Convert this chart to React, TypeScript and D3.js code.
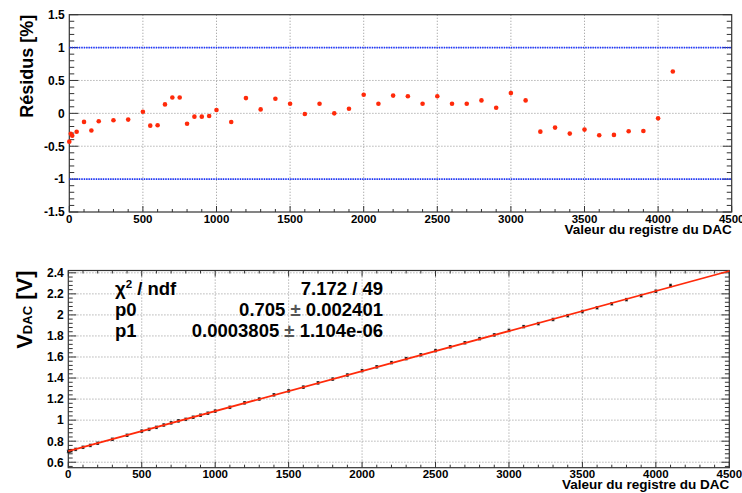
import React from "react";
import * as d3 from "d3";

// DAC register values (x)
const dacValues = [
  0, 10, 20, 50, 100, 150, 200, 300, 400, 500, 550, 600, 650, 700, 750, 800, 850, 900, 950, 1000,
  1100, 1200, 1300, 1400, 1500, 1600, 1700, 1800, 1900, 2000, 2100, 2200, 2300, 2400, 2500, 2600,
  2700, 2800, 2900, 3000, 3100, 3200, 3300, 3400, 3500, 3600, 3700, 3800, 3900, 4000, 4100,
];
// Residuals [%]
const residuals = [
  -0.43, -0.31, -0.34, -0.28, -0.13, -0.26, -0.12, -0.105, -0.095, 0.025, -0.187, -0.182, 0.136,
  0.242, 0.242, -0.157, -0.05, -0.05, -0.04, 0.05, -0.131, 0.232, 0.06, 0.222, 0.146, -0.01, 0.146,
  0.0, 0.07, 0.283, 0.146, 0.27, 0.26, 0.146, 0.26, 0.146, 0.146, 0.197, 0.086, 0.308, 0.197,
  -0.278, -0.217, -0.308, -0.247, -0.333, -0.328, -0.273, -0.268, -0.076, 0.636,
];
// Measured V_DAC [V]
const vdac = [
  0.702, 0.7066, 0.7102, 0.722, 0.7421, 0.7598, 0.7802, 0.8183, 0.8564, 0.8955, 0.9126, 0.9316,
  0.9536, 0.9737, 0.9928, 1.0078, 1.0279, 1.047, 1.0661, 1.086, 1.1221, 1.1643, 1.2004, 1.2404,
  1.2777, 1.3137, 1.3539, 1.3899, 1.429, 1.4701, 1.5064, 1.5463, 1.5843, 1.6206, 1.6606, 1.6968,
  1.735, 1.7739, 1.8101, 1.8522, 1.8884, 1.9172, 1.9564, 1.9925, 2.0317, 2.068, 2.1059, 2.1451,
  2.1831, 2.2252, 2.2796,
];
const vErr = 0.012;
// Fit parameters
const p0 = 0.705;
const p1 = 0.0003805;
const statsLabels = ["p0", "p1"];
const statsValues = ["0.705", "0.0003805"];
const statsErrors = ["0.002401", "1.104e-06"];
const chi2Text = "7.172 / 49";

const FONT = "'Liberation Sans', Arial, Helvetica, sans-serif";
const W = 742;
const H = 493;

const xTop = d3.scaleLinear().domain([0, 4500]).range([69.3, 731.7]);
const yTop = d3.scaleLinear().domain([-1.5, 1.5]).range([212, 14.7]);
const xBot = d3.scaleLinear().domain([0, 4500]).range([68.3, 729.3]);
const yBot = d3.scaleLinear().domain([0.548, 2.422]).range([467.7, 270.5]);

const fmtY = (v: number) => {
  const r = Math.round(v * 100) / 100;
  return String(r);
};

type Scale = d3.ScaleLinear<number, number>;

function Frame({
  x, y, yMinor, yMajorEvery, xTitle, yTitleNode, topTicks, yMajorLen, tickFont,
  xLabelBaseline, xTitleBaseline,
}: {
  x: Scale; y: Scale; yMinor: number; yMajorEvery: number; xTitle: string;
  yTitleNode: React.ReactNode; topTicks: boolean; yMajorLen: number; tickFont: number;
  xLabelBaseline: number; xTitleBaseline: number;
}) {
  const [x0, x1] = x.range();
  const [yb, yt] = y.range();
  const [d0, d1] = y.domain();
  const xMinorTicks = d3.range(0, 46).map((i) => i * 100);
  const xMajor = d3.range(0, 10).map((i) => i * 500);
  const iStart = Math.ceil(d0 / yMinor - 1e-9);
  const iEnd = Math.floor(d1 / yMinor + 1e-9);
  const yTicks = d3.range(iStart, iEnd + 1).map((i) => ({ v: i * yMinor, major: i % yMajorEvery === 0 }));
  return (
    <g>
      {/* grid */}
      {xMajor.filter((v) => v > 0 && v < 4500).map((v) => (
        <line key={"gx" + v} x1={x(v)} x2={x(v)} y1={yt} y2={yb} stroke="#9a9a9a" strokeWidth={0.9} strokeDasharray="1.2,1.8" />
      ))}
      {yTicks.filter((t) => t.major && y(t.v) > yt + 1 && y(t.v) < yb - 1).map((t) => (
        <line key={"gy" + t.v} x1={x0} x2={x1} y1={y(t.v)} y2={y(t.v)} stroke="#9a9a9a" strokeWidth={0.9} strokeDasharray="1.2,1.8" />
      ))}
      {/* ticks x */}
      {xMinorTicks.map((v) => {
        const major = v % 500 === 0;
        const len = major ? 6 : 3;
        return (
          <g key={"tx" + v}>
            <line x1={x(v)} x2={x(v)} y1={yb} y2={yb - len} stroke="#333" strokeWidth={1} />
            {topTicks && <line x1={x(v)} x2={x(v)} y1={yt} y2={yt + len} stroke="#333" strokeWidth={1} />}
          </g>
        );
      })}
      {/* ticks y */}
      {yTicks.map((t) => {
        const len = t.major ? yMajorLen : yMajorLen * 0.55;
        const py = y(t.v);
        return (
          <g key={"ty" + t.v}>
            <line x1={x0} x2={x0 + len} y1={py} y2={py} stroke="#333" strokeWidth={1} />
            <line x1={x1} x2={x1 - len} y1={py} y2={py} stroke="#333" strokeWidth={1} />
          </g>
        );
      })}
      {/* frame */}
      <rect x={x0} y={yt} width={x1 - x0} height={yb - yt} fill="none" stroke="#333" strokeWidth={1.2} />
      {/* labels */}
      {yTicks.filter((t) => t.major).map((t) => (
        <text key={"ly" + t.v} x={x0 - 4.5} y={y(t.v)} dy="0.36em" textAnchor="end" fontFamily={FONT} fontWeight="bold" fontSize={tickFont} fill="#000">
          {fmtY(t.v)}
        </text>
      ))}
      {xMajor.map((v) => (
        <text key={"lx" + v} x={x(v)} y={xLabelBaseline} textAnchor="middle" fontFamily={FONT} fontWeight="bold" fontSize={tickFont - 0.5} fill="#000">
          {v}
        </text>
      ))}
      <text x={x1} y={xTitleBaseline} textAnchor="end" fontFamily={FONT} fontWeight="bold" fontSize={13.5} fill="#000">
        {xTitle}
      </text>
      {yTitleNode}
    </g>
  );
}

export default function App() {
  const fitLine = d3.line<number>().x((v) => xBot(v)).y((v) => yBot(p0 + p1 * v));
  const fitXs = [0, 4500];
  return (
    <div style={{ position: "fixed", left: 0, top: 0, width: W, height: H, background: "#fff" }}>
      <svg width={W} height={H} viewBox={`0 0 ${W} ${H}`} style={{ display: "block" }}>
        <rect width={W} height={H} fill="#fff" />
        {/* ---------- Top panel: residuals ---------- */}
        <Frame
          x={xTop}
          y={yTop}
          yMinor={0.1}
          yMajorEvery={5}
          xTitle="Valeur du registre du DAC"
          topTicks={false}
          yMajorLen={9}
          tickFont={12}
          xLabelBaseline={222.5}
          xTitleBaseline={233.7}
          yTitleNode={
            <text
              transform={`translate(33, 14.7) rotate(-90)`}
              textAnchor="end"
              fontFamily={FONT}
              fontWeight="bold"
              fontSize={18}
              fill="#000"
            >
              Résidus [%]
            </text>
          }
        />
        {[1, -1].map((v) => (
          <line key={"lim" + v} x1={xTop(0)} x2={xTop(4500)} y1={yTop(v)} y2={yTop(v)} stroke="#1a33ff" strokeWidth={1.6} strokeDasharray="1.4,1" />
        ))}
        {dacValues.map((xv, i) => (
          <circle key={"r" + i} cx={xTop(xv)} cy={yTop(residuals[i])} r={2.3} fill="#ff2a0a" />
        ))}

        {/* ---------- Bottom panel: V_DAC ---------- */}
        <Frame
          x={xBot}
          y={yBot}
          yMinor={0.04}
          yMajorEvery={5}
          xTitle="Valeur du registre du DAC"
          topTicks={true}
          yMajorLen={8}
          tickFont={12}
          xLabelBaseline={477.5}
          xTitleBaseline={489}
          yTitleNode={
            <text
              transform={`translate(32, 270.5) rotate(-90)`}
              textAnchor="end"
              fontFamily={FONT}
              fontWeight="bold"
              fontSize={22}
              fill="#000"
            >
              V<tspan fontSize={13}>DAC</tspan> [V]
            </text>
          }
        />
        {dacValues.map((xv, i) => {
          const cx = xBot(xv);
          const ya = yBot(vdac[i] + vErr);
          const yb = yBot(vdac[i] - vErr);
          return (
            <g key={"v" + i}>
              <line x1={cx} x2={cx} y1={ya} y2={yb} stroke="#222" strokeWidth={1} />
              <line x1={cx - 1.5} x2={cx + 1.5} y1={ya} y2={ya} stroke="#222" strokeWidth={0.8} />
              <line x1={cx - 1.5} x2={cx + 1.5} y1={yb} y2={yb} stroke="#222" strokeWidth={0.8} />
              <circle cx={cx} cy={yBot(vdac[i])} r={1.3} fill="#111" />
            </g>
          );
        })}
        <path d={fitLine(fitXs) || ""} fill="none" stroke="#ff2a0a" strokeWidth={1.8} />

        {/* stats box text */}
        <g fontFamily={FONT} fontWeight="bold" fontSize={18.5} fill="#000">
          <text x={115} y={295}>
            χ<tspan fontSize={11.5} dy={-7.5}>2</tspan>
            <tspan dy={7.5}> / ndf</tspan>
          </text>
          <text x={383} y={295} textAnchor="end">{chi2Text}</text>
          {statsLabels.map((lab, i) => (
            <g key={lab}>
              <text x={115} y={316 + i * 21}>{lab}</text>
              <text x={383} y={316 + i * 21} textAnchor="end">
                {statsValues[i]}
                <tspan fill="#555"> ± </tspan>
                {statsErrors[i]}
              </text>
            </g>
          ))}
        </g>
      </svg>
    </div>
  );
}
